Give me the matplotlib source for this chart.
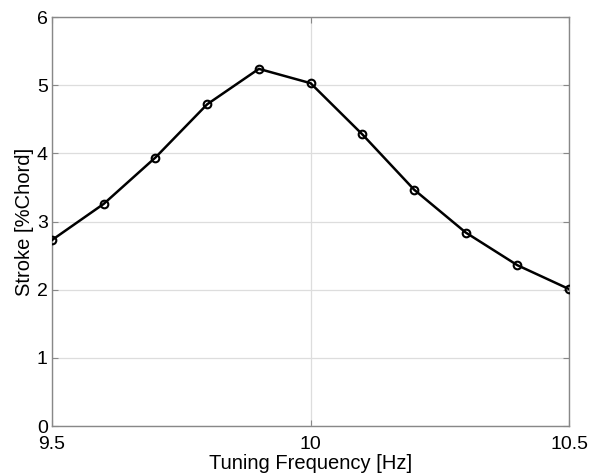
import matplotlib
matplotlib.use("Agg")
import matplotlib.pyplot as plt

freq = [9.5, 9.6, 9.7, 9.8, 9.9, 10.0, 10.1, 10.2, 10.3, 10.4, 10.5]
stroke = [2.73, 3.26, 3.94, 4.72, 5.24, 5.03, 4.28, 3.47, 2.84, 2.36, 2.01]
xticks = [9.5, 10, 10.5]
xticklabels = ["9.5", "10", "10.5"]
yticks = [0, 1, 2, 3, 4, 5, 6]

plt.rcParams['font.family'] = ['Liberation Sans', 'DejaVu Sans']

fig = plt.figure(figsize=(5.91, 4.73), dpi=100)
ax = fig.add_axes([0.088, 0.099, 0.875, 0.865])
ax.plot(freq, stroke, color='black', lw=1.8, marker='o', markersize=5.5,
        markerfacecolor='none', markeredgecolor='black', markeredgewidth=1.5, zorder=3)
ax.set_xlim(9.5, 10.5)
ax.set_ylim(0, 6)
ax.set_xticks(xticks)
ax.set_xticklabels(xticklabels)
ax.set_yticks(yticks)
ax.grid(True, color='#dddddd', lw=0.9)
ax.tick_params(direction='in', length=4, width=0.8, labelsize=14, colors='#888888',
               labelcolor='black', top=True, right=True)
ax.tick_params(axis='x', pad=7)
ax.tick_params(axis='y', pad=3)
for s in ax.spines.values():
    s.set_color('#888888')
    s.set_linewidth(1.0)
ax.set_xlabel('Tuning Frequency [Hz]', fontsize=14.5, labelpad=1)
ax.set_ylabel('Stroke [%Chord]', fontsize=14.5, labelpad=2)
fig.savefig('out.png', dpi=100)
